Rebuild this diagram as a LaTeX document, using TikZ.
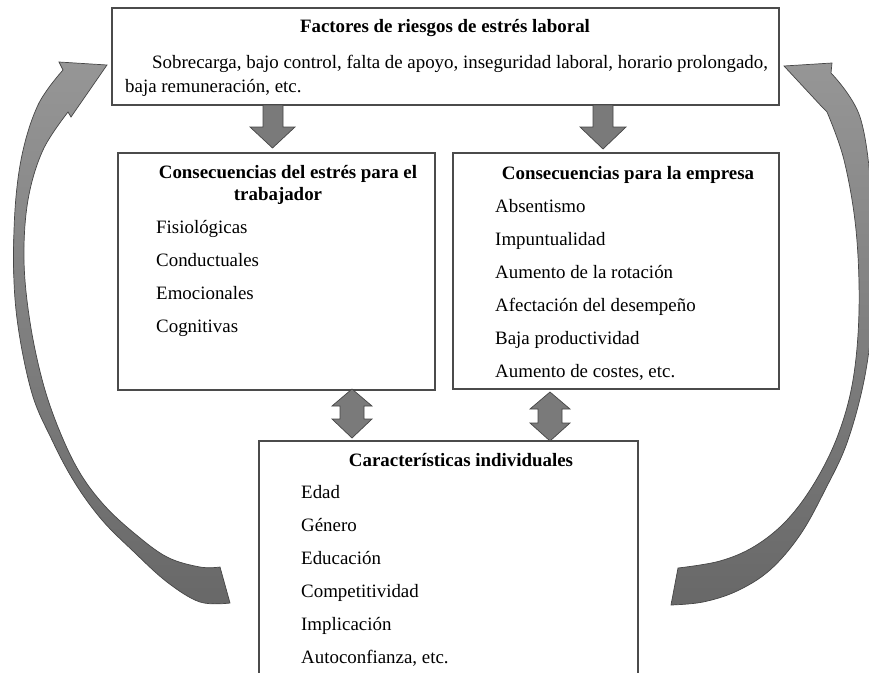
\documentclass[tikz,border=0pt]{standalone}
\usepackage{fontspec}
\setmainfont{Liberation Serif}
\definecolor{boxc}{RGB}{75,75,75}
\definecolor{arrfill}{RGB}{122,122,122}
\definecolor{arrdraw}{RGB}{70,70,70}
\definecolor{arrlight}{RGB}{150,150,150}
\definecolor{arrdark}{RGB}{104,104,104}
\begin{document}
\begin{tikzpicture}[x=1pt,y=-1pt,
  box/.style={draw=boxc, line width=1.2pt, fill=white, inner sep=0pt, outer sep=0pt},
  arr/.style={fill=arrfill, draw=arrdraw, line width=0.7pt, line join=miter},
  carr/.style={top color=arrlight, bottom color=arrdark, draw=arrdraw, line width=0.7pt, line join=miter},
  txt/.style={anchor=base west, inner sep=0pt, font=\fontsize{18.9}{22}\selectfont},
  ttl/.style={anchor=base, inner sep=0pt, font=\fontsize{18.9}{22}\selectfont\bfseries}]
\useasboundingbox (0,0) rectangle (869,672);

% boxes
\node[box, anchor=north west, minimum width=667pt, minimum height=97pt] (top) at (112,8) {};
\node[box, anchor=north west, minimum width=317pt, minimum height=237pt] (trab) at (118,153) {};
\node[box, anchor=north west, minimum width=326pt, minimum height=236pt] (emp) at (453,153) {};
\node[box, anchor=north west, minimum width=379pt, minimum height=245pt] (ind) at (259,441) {};

% top box text
\node[ttl] (t0) at (445,32) {Factores de riesgos de estrés laboral};
\node[txt] (t1) at (152,68) {Sobrecarga, bajo control, falta de apoyo, inseguridad laboral, horario prolongado,};
\node[txt] (t2) at (125,92) {baja remuneración, etc.};

% left box text
\node[ttl] (l0) at (288,178) {Consecuencias del estrés para el};
\node[ttl] (l0b) at (278,200) {trabajador};
\node[txt] (l1) at (156,233) {Fisiológicas};
\node[txt] (l2) at (156,266) {Conductuales};
\node[txt] (l3) at (156,299) {Emocionales};
\node[txt] (l4) at (156,332) {Cognitivas};

% right box text
\node[ttl] (r0) at (628,179) {Consecuencias para la empresa};
\node[txt] (r1) at (495,212) {Absentismo};
\node[txt] (r2) at (495,245) {Impuntualidad};
\node[txt] (r3) at (495,278) {Aumento de la rotación};
\node[txt] (r4) at (495,311) {Afectación del desempeño};
\node[txt] (r5) at (495,344) {Baja productividad};
\node[txt] (r6) at (495,377) {Aumento de costes, etc.};

% bottom box text
\node[ttl] (b0) at (461,466) {Características individuales};
\node[txt] (b1) at (301,498) {Edad};
\node[txt] (b2) at (301,531) {Género};
\node[txt] (b3) at (301,564) {Educación};
\node[txt] (b4) at (301,597) {Competitividad};
\node[txt] (b5) at (301,630) {Implicación};
\node[txt] (b6) at (301,663) {Autoconfianza, etc.};

% down block arrows
\draw[arr] (263,105) -- (283,105) -- (283,127) -- (295,127) -- (272.5,148) -- (250,127) -- (263,127) -- cycle;
\draw[arr] (593,105) -- (613,105) -- (613,127) -- (626,127) -- (603,149) -- (580,127) -- (593,127) -- cycle;

% double block arrows
\draw[arr] (352,389) -- (372,406) -- (364,406) -- (364,419) -- (372,419) -- (352,438) -- (332,419) -- (340,419) -- (340,406) -- (332,406) -- cycle;
\draw[arr] (550,392) -- (570,409) -- (562,409) -- (562,423) -- (570,423) -- (550,441) -- (530,423) -- (538,423) -- (538,409) -- (530,409) -- cycle;

% left curved arrow
\draw[carr] plot[smooth, tension=0.6] coordinates {(63,70) (38,105) (21,160) (14,230) (16,310) (31,390) (52,440) (75,483) (102,520) (133,551) (167,582) (200,602) (230,603)}
  -- plot[smooth, tension=0.6] coordinates {(220,567) (200,567) (167,557) (134,533) (104,505) (80,473) (60,432) (43,383) (30,322) (24,260) (28,200) (43,150) (68,112)}
  -- (71,117) -- (107,65) -- (59,62) -- cycle;

% right curved arrow
\draw[carr] plot[smooth, tension=0.6] coordinates {(831,73) (860,117) (872,200) (874,290) (866,370) (848,440) (825,490) (800,535) (770,570) (737,591) (703,602) (671,605)}
  -- plot[smooth, tension=0.6] coordinates {(678,568) (720,561) (755,546) (787,520) (815,482) (838,435) (853,380) (859,310) (856,230) (844,160) (827,112)}
  -- (823,108) -- (784,66) -- (832,63) -- cycle;
\end{tikzpicture}
\end{document}
